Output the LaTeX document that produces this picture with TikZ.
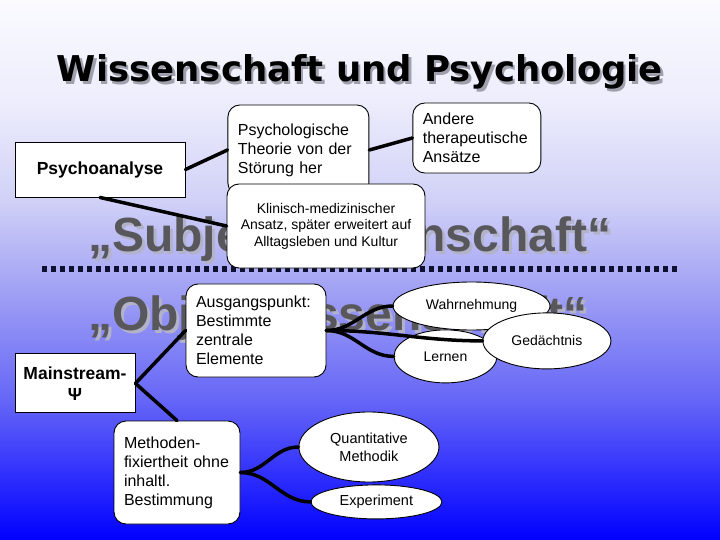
\documentclass[tikz,border=0pt]{standalone}
\usepackage{fontspec}
\setmainfont{Liberation Sans}
\newfontfamily\titlefont{DejaVu Sans}
\usetikzlibrary{arrows.meta, positioning, shapes.geometric}
\definecolor{wordgray}{RGB}{88,88,92}
\definecolor{wordshade}{RGB}{178,178,200}
\definecolor{titleshade}{RGB}{160,160,172}
\definecolor{sepnavy}{RGB}{15,15,50}
\pgfdeclareverticalshading{slidebg}{100bp}{rgb(0bp)=(0,0,1); rgb(25bp)=(0,0,1); rgb(31.5bp)=(0.2,0.2,0.99); rgb(38bp)=(0.4,0.4,0.97); rgb(48.1bp)=(0.63,0.63,0.96); rgb(56.5bp)=(0.82,0.82,0.97); rgb(65.7bp)=(0.93,0.93,0.99); rgb(75bp)=(0.98,0.98,1); rgb(100bp)=(0.98,0.98,1)}

\begin{document}
\begin{tikzpicture}[
  x=1bp, y=-1bp,
  sq/.style={draw, fill=white, line width=0.9bp, align=center, inner sep=0pt, font=\bfseries\fontsize{17.5bp}{21bp}\selectfont},
  rbox/.style={draw, fill=white, line width=0.9bp, rounded corners=12bp, align=left, inner xsep=10bp, inner ysep=0pt, font=\fontsize{16bp}{19bp}\selectfont},
  oval/.style={draw, fill=white, ellipse, line width=0.9bp, inner sep=0pt, align=center, font=\fontsize{14bp}{18bp}\selectfont},
  bigword/.style={anchor=base west, inner sep=0pt, font=\bfseries\fontsize{48bp}{48bp}\selectfont},
  link/.style={line width=3.5bp, line cap=round},
  sepline/.style={line width=6bp, sepnavy, dash pattern=on 5bp off 4bp},
  node distance=40bp and 40bp
]
\shade[shading=slidebg] (0,0) rectangle (720,540);
\useasboundingbox (0,0) rectangle (720,540);

\node[anchor=base, inner sep=0pt, text=titleshade, font=\titlefont\bfseries\fontsize{35.5bp}{40bp}\selectfont] (titlesh) at (362.5,84.5) {Wissenschaft und Psychologie};
\node[anchor=base, inner sep=0pt, font=\titlefont\bfseries\fontsize{35.5bp}{40bp}\selectfont] (title) at (360,82) {Wissenschaft und Psychologie};

\node[bigword, text=wordshade] (subjsh) at (91,255) {„Subjektwissenschaft“};
\node[bigword, text=wordgray] (subj) at (88,252) {„Subjektwissenschaft“};
\node[bigword, text=wordshade] (objsh) at (91,333) {„Objektwissenschaft“};
\node[bigword, text=wordgray] (obj) at (88,330) {„Objektwissenschaft“};

\coordinate (sepl) at (42,269);
\coordinate (sepr) at (680,269);
\draw[sepline] (sepl) -- (sepr);

\node[sq, minimum width=170bp, minimum height=55bp] (psyana) at (100,169.5) {Psychoanalyse};
\node[rbox, text width=121bp, minimum height=90bp, right=42bp of psyana, yshift=19.5bp] (psytheo) {Psychologische\\Theorie von der\\Störung her};
\node[rbox, text width=108bp, minimum height=70bp, right=43bp of psytheo, yshift=12bp] (andere) {Andere\\therapeutische\\Ansätze};
\node[rbox, align=center, inner xsep=0pt, minimum width=198bp, minimum height=84bp, font=\fontsize{14bp}{16.5bp}\selectfont] (klin) at (326,226) {Klinisch-medizinischer\\Ansatz, später erweitert auf\\Alltagsleben und Kultur};

\node[sq, minimum width=120bp, minimum height=59bp, below=156bp of psyana, xshift=-25bp] (mainstr) {Mainstream-\\Ψ};
\node[rbox, text width=120bp, minimum height=93bp] (ausg) at (256,330.5) {Ausgangspunkt:\\Bestimmte\\zentrale\\Elemente};
\node[rbox, text width=106bp, minimum height=103bp, inner xsep=10bp] (meth) at (177,472.5) {Methoden-\\fixiertheit ohne\\inhaltl.\\Bestimmung};

\node[oval, minimum width=157bp, minimum height=48bp] (wahr) at (471.5,306) {Wahrnehmung};
\node[oval, minimum width=103bp, minimum height=53bp, below=-1bp of wahr, xshift=-26bp] (lern) {Lernen};
\node[oval, minimum width=128bp, minimum height=56bp, right=-15bp of lern, yshift=15.5bp] (ged) {Gedächtnis};

\node[oval, minimum width=140bp, minimum height=70bp, right=58bp of meth, yshift=25.5bp, font=\fontsize{14.5bp}{18bp}\selectfont] (quant) {Quantitative\\Methodik};
\node[oval, minimum width=131bp, minimum height=34bp, below=2bp of quant, xshift=7.5bp, font=\fontsize{14.5bp}{18bp}\selectfont] (exper) {Experiment};

\draw[link] (psyana.east) -- (psytheo.west);
\draw[link] (psytheo.east) -- (andere.west);
\draw[link] (psyana.south) -- (klin.west);
\draw[link] (mainstr.east) -- (ausg.west);
\draw[link] (mainstr.east) -- (meth.north);
\draw[link] (ausg.east) to[out=0, in=180] (wahr.west);
\draw[link] (ausg.east) to[out=0, in=180] (ged.west);
\draw[link] (ausg.east) to[out=0, in=180] (lern.west);
\draw[link] (meth.east) to[out=0, in=180] (quant.west);
\draw[link] (meth.east) to[out=0, in=180] (exper.west);
\end{tikzpicture}
\end{document}
